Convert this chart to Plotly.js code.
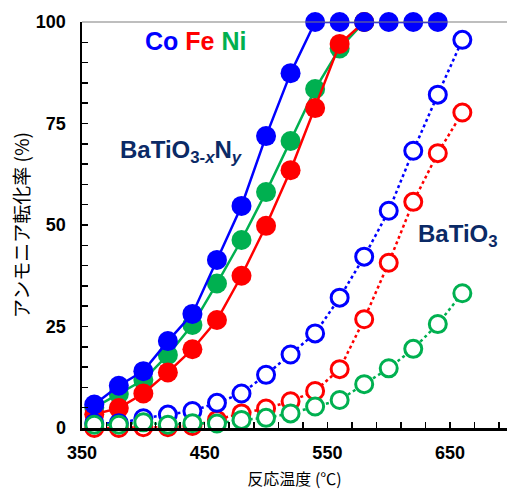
<!DOCTYPE html>
<html>
<head>
<meta charset="utf-8">
<script src="https://cdn.plot.ly/plotly-3.0.1.min.js"></script>
<style>html,body{margin:0;padding:0;background:#fff;}#chart{width:507px;height:490px;}</style>
</head>
<body>
<div id="chart"></div>
<script>
// Temperatures (°C)
var tempsN = [360, 380, 400, 420, 440, 460, 480, 500, 520, 540, 560, 580, 600, 620, 640];
var tempsO = [360, 380, 400, 420, 440, 460, 480, 500, 520, 540, 560, 580, 600, 620, 640, 660];

// BaTiO3-xNy (filled markers, solid lines)
var coN = [5.8, 10.4, 14.0, 21.4, 28.1, 41.4, 54.7, 71.9, 87.4, 100, 100, 100, 100, 100, 100];
var feN = [3.4, 4.9, 8.5, 13.7, 19.4, 26.6, 37.5, 49.8, 63.5, 78.8, 94.6, 100];
var niN = [5.0, 8.4, 11.8, 18.0, 25.4, 35.6, 46.3, 58.1, 70.7, 83.5, 93.5, 100];

// BaTiO3 (open markers, dotted lines)
var coO = [1.2, 1.2, 2.4, 3.3, 4.2, 6.2, 8.5, 13.1, 18.1, 23.3, 32.1, 42.2, 53.5, 68.3, 82.1, 95.6];
var feO = [0.0, 0.0, 0.2, 0.2, 0.5, 2.0, 3.6, 4.8, 6.6, 9.1, 14.5, 26.8, 40.7, 55.7, 67.7, 77.7];
var niO = [0.8, 0.8, 1.4, 0.8, 1.2, 1.1, 2.0, 2.5, 3.6, 5.3, 6.9, 10.8, 14.7, 19.5, 25.6, 33.2];

// Tick values
var xTicks = [350, 450, 550, 650];
var yTicks = [0, 25, 50, 75, 100];

var BLUE = '#0000FF', RED = '#FF0000', GREEN = '#00B050', NAVY = '#0B2A66';

function solid(x, y, c) {
  return {x: x.slice(0, y.length), y: y, type: 'scatter', mode: 'lines+markers',
    line: {color: c, width: 2.5}, marker: {color: c, size: 20, line: {width: 0}},
    hoverinfo: 'skip', showlegend: false, cliponaxis: false};
}
function open(x, y, c) {
  return {x: x.slice(0, y.length), y: y, type: 'scatter', mode: 'lines+markers',
    line: {color: c, width: 2.5, dash: 'dot'},
    marker: {color: '#FFFFFF', size: 17, line: {color: c, width: 3}},
    hoverinfo: 'skip', showlegend: false, cliponaxis: false};
}

var data = [
  solid(tempsN, niN, GREEN),
  solid(tempsN, feN, RED),
  solid(tempsN, coN, BLUE),
  open(tempsO, feO, RED),
  open(tempsO, coO, BLUE),
  open(tempsO, niO, GREEN)
];

var tickFont = {family: 'Liberation Sans, Arial, sans-serif', size: 18, color: '#000', weight: 'bold'};
var annFont = 'Liberation Sans, Arial, sans-serif';

var layout = {
  width: 507, height: 490,
  margin: {l: 82, r: 0, t: 22, b: 62},
  paper_bgcolor: '#fff', plot_bgcolor: '#fff',
  font: {family: annFont},
  xaxis: {
    range: [350, 696.4], tickvals: xTicks,
    ticks: 'inside', ticklen: 6, tickwidth: 1.5, tickcolor: '#000',
    minor: {dtick: 20, tick0: 350, ticks: 'inside', ticklen: 6, tickwidth: 1.5, tickcolor: '#000'},
    showgrid: false, zeroline: false, showline: true, linecolor: '#000', linewidth: 2.5,
    tickfont: tickFont, ticklabelstandoff: 7,
    title: {text: '反応温度 (℃)', font: {family: 'Noto Sans CJK JP', size: 16, color: '#000'}, standoff: 14}
  },
  yaxis: {
    range: [0, 100], tickvals: yTicks,
    ticks: 'inside', ticklen: 6, tickwidth: 1.5, tickcolor: '#000',
    minor: {dtick: 5, tick0: 0, ticks: 'inside', ticklen: 6, tickwidth: 1.5, tickcolor: '#000'},
    showgrid: false, zeroline: false, showline: true, linecolor: '#000', linewidth: 2.5,
    tickfont: tickFont, ticklabelstandoff: 10,
    title: {text: 'アンモニア転化率 (%)', font: {family: 'Noto Sans CJK JP', size: 19, color: '#000'}, standoff: 1}
  },
  shapes: [
    {type: 'line', xref: 'paper', yref: 'paper', x0: 0, x1: 1, y0: 1, y1: 1, line: {color: '#7F7F7F', width: 1.2}}
  ],
  annotations: [
    {x: 399.5, y: 95.4, xref: 'x', yref: 'y', xanchor: 'left', yanchor: 'middle', showarrow: false,
     text: '<span style="color:' + BLUE + '">Co</span> <span style="color:' + RED + '">Fe</span> <span style="color:' + GREEN + '">Ni</span>',
     font: {family: annFont, size: 25, weight: 'bold'}},
    {x: 379.3, y: 68.0, xref: 'x', yref: 'y', xanchor: 'left', yanchor: 'middle', showarrow: false,
     text: 'BaTiO<sub>3-<i>x</i></sub>N<sub><i>y</i></sub>',
     font: {family: annFont, size: 24, color: NAVY, weight: 'bold'}},
    {x: 622.3, y: 47.5, xref: 'x', yref: 'y', xanchor: 'left', yanchor: 'middle', showarrow: false,
     text: 'BaTiO<sub>3</sub>',
     font: {family: annFont, size: 24, color: NAVY, weight: 'bold'}}
  ]
};

Plotly.newPlot('chart', data, layout, {displayModeBar: false, staticPlot: true});
</script>
</body>
</html>
